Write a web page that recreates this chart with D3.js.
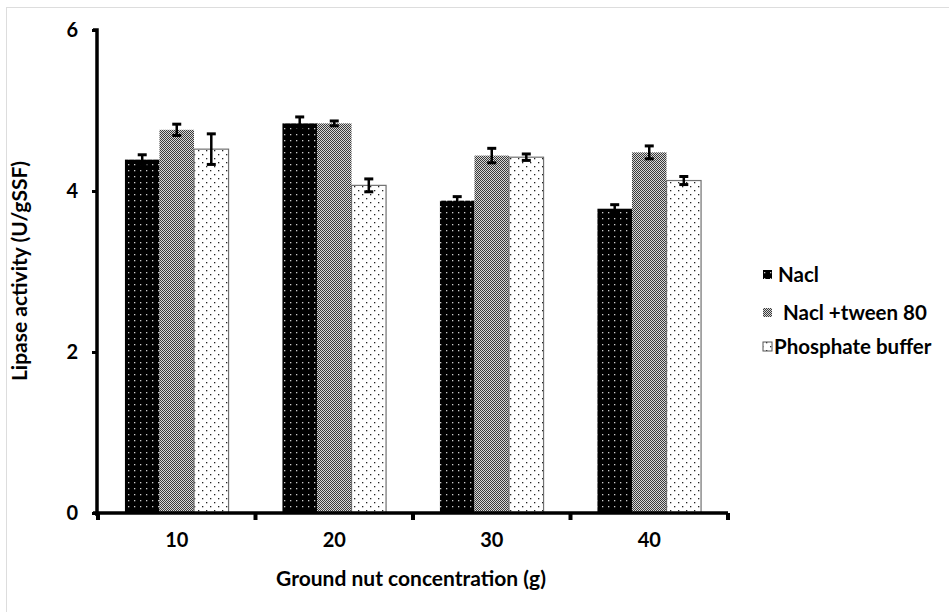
<!DOCTYPE html>
<html><head><meta charset="utf-8">
<script src="https://cdn.jsdelivr.net/npm/d3@7"></script>
<style>body{margin:0;background:#fff}svg{display:block}text{font-family:Lato,"Open Sans",sans-serif;font-weight:bold;fill:#000}</style>
</head><body>
<script>
const categories = ["10","20","30","40"];
const seriesNames = ["Nacl"," Nacl +tween 80","Phosphate buffer"];
const nacl = [4.39, 4.84, 3.88, 3.78];
const naclErr = [0.06, 0.08, 0.05, 0.05];
const tween = [4.76, 4.84, 4.44, 4.48];
const tweenErr = [0.07, 0.03, 0.09, 0.08];
const phosphate = [4.52, 4.07, 4.42, 4.13];
const phosphateErr = [0.19, 0.08, 0.04, 0.05];
const yTicks = [0, 2, 4, 6];

const W = 949, H = 612;
const svg = d3.select("body").append("svg").attr("width", W).attr("height", H);
const defs = svg.append("defs");

// patterns
const p1 = defs.append("pattern").attr("id","pNacl").attr("patternUnits","userSpaceOnUse").attr("width",6).attr("height",6);
p1.append("rect").attr("width",6).attr("height",6).attr("fill","#000");
p1.append("rect").attr("x",2).attr("y",2).attr("width",1.3).attr("height",1.3).attr("fill","#ccc");

const p2 = defs.append("pattern").attr("id","pTween").attr("patternUnits","userSpaceOnUse").attr("width",2).attr("height",2);
p2.append("rect").attr("width",2).attr("height",2).attr("fill","#d8d8d8");
p2.append("rect").attr("x",0).attr("y",0).attr("width",1).attr("height",1).attr("fill","#3a3a3a");
p2.append("rect").attr("x",1).attr("y",1).attr("width",1).attr("height",1).attr("fill","#3a3a3a");

const p3 = defs.append("pattern").attr("id","pPhos").attr("patternUnits","userSpaceOnUse").attr("width",8).attr("height",8);
p3.append("rect").attr("width",8).attr("height",8).attr("fill","#fff");
p3.append("rect").attr("x",2).attr("y",2).attr("width",1.3).attr("height",1.3).attr("fill","#222");
p3.append("rect").attr("x",6).attr("y",6).attr("width",1.3).attr("height",1.3).attr("fill","#222");

const fills = ["url(#pNacl)","url(#pTween)","url(#pPhos)"];
const strokes = ["none","none","#707070"];
const values = [nacl, tween, phosphate];
const errs = [naclErr, tweenErr, phosphateErr];

// frame lines
svg.append("line").attr("x1",6).attr("x2",W).attr("y1",7.5).attr("y2",7.5).attr("stroke","#ddd");
svg.append("line").attr("x1",6.5).attr("x2",6.5).attr("y1",7).attr("y2",H).attr("stroke","#ddd");

const x0 = d3.scaleBand().domain(categories).range([98, 728]).padding(0);
const x1 = d3.scaleBand().domain(d3.range(3)).range([0, x0.bandwidth()]).paddingInner(0).paddingOuter(0.78);
const y = d3.scaleLinear().domain([0, 6]).range([513, 30]);

const g = svg.append("g");
categories.forEach((c, i) => {
  for (let s = 0; s < 3; s++) {
    const v = values[s][i];
    const bx = x0(c) + x1(s);
    g.append("rect").attr("x", bx).attr("y", y(v)).attr("width", x1.bandwidth()).attr("height", y(0) - y(v))
      .attr("fill", fills[s]).attr("stroke", strokes[s]).attr("stroke-width", 1.2);
  }
});
// error bars
categories.forEach((c, i) => {
  for (let s = 0; s < 3; s++) {
    const v = values[s][i], e = errs[s][i];
    const cx = x0(c) + x1(s) + x1.bandwidth() / 2;
    g.append("line").attr("x1", cx).attr("x2", cx).attr("y1", y(v + e)).attr("y2", y(v - e)).attr("stroke", "#000").attr("stroke-width", 2.5);
    [v + e, v - e].forEach(t => g.append("line").attr("x1", cx - 4.5).attr("x2", cx + 4.5).attr("y1", y(t)).attr("y2", y(t)).attr("stroke", "#000").attr("stroke-width", 3));
  }
});

// y axis
const yAxis = svg.append("g").attr("transform", "translate(97,0)")
  .call(d3.axisLeft(y).tickValues(yTicks).tickSize(5).tickPadding(14).tickFormat(d3.format("d")));
yAxis.select(".domain").attr("d", `M-4,${y(6)}H0V${y(0)+3}`).attr("stroke-width", 3.5).attr("stroke","#000");
yAxis.selectAll(".tick line").attr("stroke-width", 3).attr("stroke","#000");
yAxis.selectAll("text").style("font-size", "20px");

// x axis
const xAxis = svg.append("g").attr("transform", `translate(0,${y(0)})`)
  .call(d3.axisBottom(x0).tickSize(0).tickPadding(20));
xAxis.select(".domain").attr("d", "M93,0H728").attr("stroke-width", 3.5).attr("stroke","#000");
xAxis.selectAll("text").style("font-size", "20px");
const bounds = [98].concat(categories.map(c => x0(c) + x0.bandwidth()));
xAxis.selectAll(".bt").data(bounds).enter().append("line")
  .attr("x1", d => d).attr("x2", d => d).attr("y1", 0).attr("y2", 7).attr("stroke", "#000").attr("stroke-width", 4);

// axis titles
svg.append("text").attr("x", 411).attr("y", 586).attr("text-anchor", "middle").style("font-size", "21px")
  .text("Ground nut concentration (g)");
svg.append("text").attr("transform", "translate(27,271) rotate(-90)").attr("text-anchor", "middle").style("font-size", "21px")
  .text("Lipase activity (U/gSSF)");

// legend
const legY = [275, 313, 347];
const legX = [763, 763, 763];
const textX = [778, 778, 774];
seriesNames.forEach((n, s) => {
  svg.append("rect").attr("x", legX[s]).attr("y", legY[s] - 5).attr("width", 9).attr("height", 9)
    .attr("fill", fills[s]).attr("stroke", s === 2 ? "#555" : "none");
  svg.append("text").attr("x", textX[s]).attr("y", legY[s]).attr("dy", "0.35em").style("font-size", "20.5px")
    .attr("xml:space", "preserve").style("white-space", "pre").text(n);
});
</script>
</body></html>
